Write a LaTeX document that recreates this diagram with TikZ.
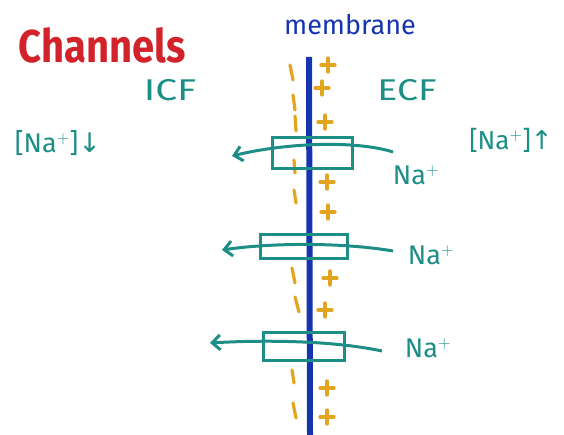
\documentclass[tikz,border=0pt]{standalone}
\usepackage{fontspec}
\setmainfont{Fira Sans}
\newfontfamily\symfont{DejaVu Sans}
\usetikzlibrary{arrows.meta}
\definecolor{tealc}{HTML}{1C8E86}
\definecolor{memblue}{HTML}{1634B0}
\definecolor{chorange}{HTML}{E3A41F}
\definecolor{titlered}{HTML}{D2222A}
\tikzset{
  lbl/.style={text=tealc, inner sep=0pt, font=\fontsize{27}{29}\selectfont},
  chanbox/.style={draw=tealc, line width=3pt},
  flow/.style={draw=tealc, line width=3pt, -{Straight Barb[length=8pt,width=15pt,line width=3pt]}},
  negcharge/.style={draw=chorange, line width=3.2pt, line cap=round},
  poscharge/.style={draw=chorange, line width=3.2pt, line cap=round},
}
\newcommand{\plusmark}[2]{\draw[poscharge] (#1-7,#2) -- (#1+7,#2); \draw[poscharge] (#1,#2-7) -- (#1,#2+7);}
\begin{document}
\begin{tikzpicture}[x=1pt,y=-1pt]
\useasboundingbox (0,0) rectangle (564,435);
% titles
\node[text=titlered, inner sep=0pt, font=\fontsize{40}{42}\selectfont\bfseries, yscale=1.15] (title) at (102,45) {Channels};
\node[text=memblue, inner sep=0pt, font=\fontsize{27}{29}\selectfont] (mem) at (350,25) {membrane};
\node[lbl, font=\fontsize{30}{32}\selectfont, xscale=1.3] (icf) at (170,90) {ICF};
\node[lbl, font=\fontsize{30}{32}\selectfont, xscale=1.25] (ecf) at (407,90) {ECF};
\node[lbl, font=\fontsize{27}{29}\selectfont] (nain) at (58,143) {[Na$^{+}$]{\symfont ↓}};
\node[lbl, font=\fontsize{26}{28}\selectfont] (naout) at (511,140) {[Na$^{+}$]{\symfont ↑}};
% negative charges (ICF side)
\foreach \xa/\ya/\xb/\yb in {290/65/293/80, 293/95/295/110, 295/116/296/131,
  294/160/295/173, 294/190/296/203, 292/268/295/283, 295/297/299/312,
  292/370/294/383, 293/403/296/418}
  \draw[negcharge] (\xa,\ya) -- (\xb,\yb);
% positive charges (ECF side)
\plusmark{328}{65}
\plusmark{322}{88}
\plusmark{325}{122}
\plusmark{327}{182}
\plusmark{328}{212}
\plusmark{330}{278}
\plusmark{325}{310}
\plusmark{327}{388}
\plusmark{327}{417}
% membrane
\coordinate (mtop) at (309,57);
\coordinate (mbot) at (310,435);
\draw[memblue, line width=6pt] (mtop) -- (mbot);
% channels
\node[chanbox, minimum width=80pt, minimum height=31pt, inner sep=0pt] (ch1) at (312,153.5) {};
\node[chanbox, minimum width=87pt, minimum height=24pt, inner sep=0pt] (ch2) at (303.5,247) {};
\node[chanbox, minimum width=81pt, minimum height=28pt, inner sep=0pt] (ch3) at (303.5,346) {};
% Na+ flows
\coordinate (s1) at (393,152); \coordinate (e1) at (232,156);
\coordinate (s2) at (393,251); \coordinate (e2) at (222,250);
\coordinate (s3) at (382,351); \coordinate (e3) at (210,343);
\draw[flow] (s1) .. controls (355,140) and (285,143) .. (e1);
\draw[flow] (s2) .. controls (340,242) and (270,243) .. (e2);
\draw[flow] (s3) .. controls (330,340) and (260,340) .. (e3);
\node[lbl] (na1) at (416,175) {Na$^{+}$};
\node[lbl] (na2) at (431,255) {Na$^{+}$};
\node[lbl] (na3) at (428,348) {Na$^{+}$};
\end{tikzpicture}
\end{document}
